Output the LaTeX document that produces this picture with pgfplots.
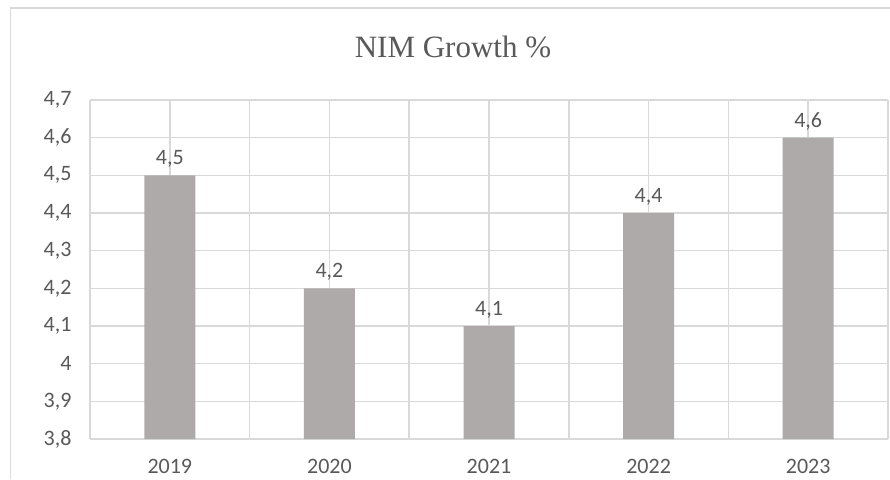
\documentclass[border=0pt]{standalone}
\usepackage{pgfplots}
\pgfplotsset{compat=1.18}
\usepackage{fontspec}
\setmainfont{Carlito}
\newfontfamily\titlefont{Liberation Serif}
\definecolor{barc}{HTML}{AEAAAA}
\definecolor{gridc}{HTML}{D9D9D9}
\definecolor{txt}{HTML}{595959}
\definecolor{framec}{HTML}{D9D9D9}
\begin{document}
\begin{tikzpicture}[x=1pt,y=1pt]
\useasboundingbox (0,0) rectangle (890,479);
\draw[framec,line width=1.5pt] (10.5,0) -- (10.5,471) -- (895,471);
\node[text=txt,font=\titlefont\fontsize{31}{36}\selectfont] at (453,432) {NIM Growth \%};
\begin{axis}[
  at={(90pt,40pt)}, anchor=south west,
  scale only axis, width=798pt, height=339pt,
  xmin=-0.5, xmax=4.5, ymin=3.8, ymax=4.7,
  xtick={0,1,2,3,4},
  xticklabels={2019,2020,2021,2022,2023},
  minor xtick={-0.5,0.5,1.5,2.5,3.5,4.5},
  ytick={3.8,3.9,...,4.71},
  xmajorgrids, xminorgrids, ymajorgrids,
  grid style={gridc,line width=1.6pt},
  minor grid style={gridc,line width=1.6pt},
  major grid style={gridc,line width=1.6pt},
  axis line style={draw=none},
  major tick style={draw=none}, minor tick style={draw=none},
  tick label style={text=txt,font=\fontsize{22}{26}\selectfont},
  /pgf/number format/assume math mode=true,
  /pgf/number format/use comma,
  /pgf/number format/fixed,
  /pgf/number format/precision=1,
  xticklabel style={yshift=-12pt},
  yticklabel style={xshift=-15pt},
  ybar, bar width=51pt,
  nodes near coords,
  nodes near coords style={text=txt,font=\fontsize{22}{26}\selectfont,yshift=4pt,
    /pgf/number format/assume math mode=true,/pgf/number format/use comma,/pgf/number format/fixed,/pgf/number format/precision=1},
]
\addplot[fill=barc,draw=none] coordinates {(0,4.5) (1,4.2) (2,4.1) (3,4.4) (4,4.6)};
\end{axis}
\end{tikzpicture}
\end{document}
